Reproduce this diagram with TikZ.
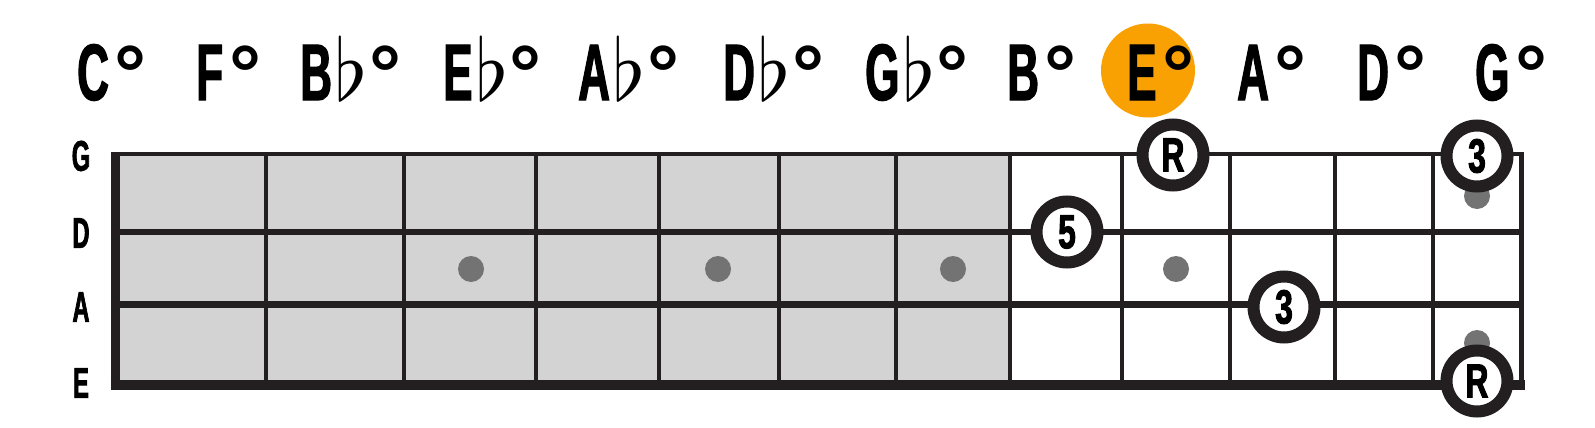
\documentclass[tikz,border=0pt]{standalone}
\usepackage{fontspec}
\usepackage{graphicx}
\newfontfamily\labfont[FakeStretch=0.55,FakeBold=1.5]{Liberation Sans}
\newfontfamily\numfont[FakeStretch=0.66,FakeBold=2]{Liberation Sans}
\newfontfamily\degfont{Liberation Sans}
\definecolor{ink}{HTML}{231F20}
\definecolor{fretgray}{HTML}{D3D3D3}
\definecolor{dotgray}{HTML}{737373}
\definecolor{hilite}{HTML}{F9A102}
\newcommand{\fl}{\hspace{3pt}\scalebox{8.6}{\normalsize$\flat$}\hspace{-5pt}}
\newcommand{\dg}{\hspace{6pt}{\degfont\bfseries\fontsize{80}{80}\selectfont\raisebox{-1pt}{°}}}
\tikzset{
  note/.style={font=\labfont\bfseries\fontsize{80}{80}\selectfont, anchor=base west, inner sep=0pt},
  strname/.style={font=\labfont\bfseries\fontsize{43}{43}\selectfont, inner sep=0pt},
  marker/.style={circle, fill=dotgray, minimum size=26pt, inner sep=0pt},
  tone/.style={circle, draw=ink, line width=12pt, fill=white, minimum size=61pt, inner sep=0pt,
    font=\numfont\bfseries\fontsize{48}{48}\selectfont},
}
\begin{document}
\begin{tikzpicture}[x=1pt,y=-1pt]
\useasboundingbox (0,0) rectangle (1595,428);
% shaded part of the neck
\fill [fretgray] (115,154) rectangle (1010,385);
% frets
\draw [ink, line width=4.5pt] (266,154) -- (266,385);
\draw [ink, line width=4.5pt] (404,154) -- (404,385);
\draw [ink, line width=4.5pt] (536,154) -- (536,385);
\draw [ink, line width=4.5pt] (659,154) -- (659,385);
\draw [ink, line width=4.5pt] (779,154) -- (779,385);
\draw [ink, line width=4.5pt] (896,154) -- (896,385);
\draw [ink, line width=4.5pt] (1010,154) -- (1010,385);
\draw [ink, line width=4.5pt] (1122,154) -- (1122,385);
\draw [ink, line width=4.5pt] (1230,154) -- (1230,385);
\draw [ink, line width=4.5pt] (1335,154) -- (1335,385);
\draw [ink, line width=4.5pt] (1433,154) -- (1433,385);
% strings
\draw [ink, line width=4.5pt] (115,154) -- (1522,154);
\draw [ink, line width=6pt] (115,232) -- (1522,232);
\draw [ink, line width=7pt] (115,304) -- (1522,304);
\draw [ink, line width=9.5pt] (110.5,385) -- (1524.5,385);
% nut and end
\draw [ink, line width=9.3pt] (115.3,151.8) -- (115.3,389.7);
\draw [ink, line width=5.5pt] (1521.5,151.8) -- (1521.5,389.7);
% string names
\node [strname] (sG) at (81,156) {G};
\node [strname] (sD) at (81,233) {D};
\node [strname] (sA) at (81,307) {A};
\node [strname] (sE) at (81,383) {E};
% position dots
\node [marker] (dot3) at (471,269) {};
\node [marker] (dot5) at (718,269) {};
\node [marker] (dot7) at (953,269) {};
\node [marker] (dot9) at (1176,269) {};
\node [marker] (dot12a) at (1477,196) {};
\node [marker] (dot12b) at (1477,343) {};
% chord names
\node [circle, fill=hilite, minimum size=94pt, inner sep=0pt] (hlE) at (1148,70.5) {};
\node [note] (nC) at (77,100) {C\dg};
\node [note] (nF) at (196,100) {F\dg};
\node [note] (nBb) at (300,100) {B\fl\dg};
\node [note] (nEb) at (443,100) {E\fl\dg};
\node [note] (nAb) at (578,100) {A\fl\dg};
\node [note] (nDb) at (723,100) {D\fl\dg};
\node [note] (nGb) at (865,100) {G\fl\dg};
\node [note] (nB) at (1007,100) {B\dg};
\node [note] (nE) at (1127,100) {E\dg};
\node [note] (nA) at (1237,100) {A\dg};
\node [note] (nD) at (1357,100) {D\dg};
\node [note] (nG) at (1475,100) {G\dg};
% chord tones
\node [tone] (tR1) at (1173,155) {R};
\node [tone] (t5) at (1067,232) {5};
\node [tone] (t3a) at (1284,307) {3};
\node [tone] (t3b) at (1477,156) {3};
\node [tone] (tR2) at (1477,381) {R};
\end{tikzpicture}
\end{document}
